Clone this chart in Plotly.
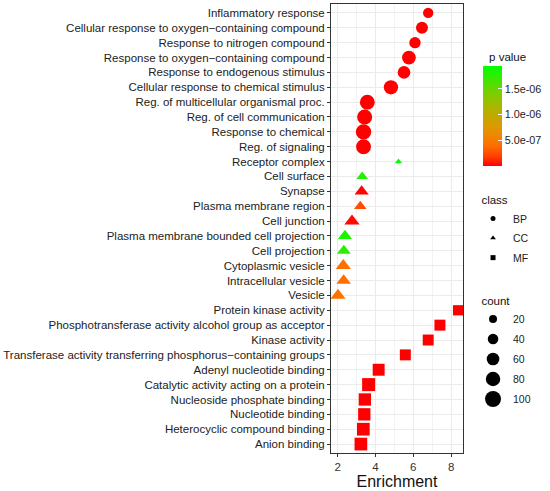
import plotly.graph_objects as go

# GO terms, top to bottom as in the figure
terms = [
    "Inflammatory response",
    "Cellular response to oxygen\u2212containing compound",
    "Response to nitrogen compound",
    "Response to oxygen\u2212containing compound",
    "Response to endogenous stimulus",
    "Cellular response to chemical stimulus",
    "Reg. of multicellular organismal proc.",
    "Reg. of cell communication",
    "Response to chemical",
    "Reg. of signaling",
    "Receptor complex",
    "Cell surface",
    "Synapse",
    "Plasma membrane region",
    "Cell junction",
    "Plasma membrane bounded cell projection",
    "Cell projection",
    "Cytoplasmic vesicle",
    "Intracellular vesicle",
    "Vesicle",
    "Protein kinase activity",
    "Phosphotransferase activity alcohol group as acceptor",
    "Kinase activity",
    "Transferase activity transferring phosphorus\u2212containing groups",
    "Adenyl nucleotide binding",
    "Catalytic activity acting on a protein",
    "Nucleoside phosphate binding",
    "Nucleotide binding",
    "Heterocyclic compound binding",
    "Anion binding",
]
term_class = ["BP"] * 10 + ["CC"] * 10 + ["MF"] * 10
enrichment = [6.79, 6.46, 6.09, 5.77, 5.51, 4.82, 3.57, 3.43, 3.37, 3.37,
              5.22, 3.30, 3.27, 3.20, 2.76, 2.39, 2.33, 2.30, 2.32, 2.02,
              8.37, 7.41, 6.79, 5.58, 4.17, 3.64, 3.44, 3.41, 3.36, 3.23]
count = [38, 53, 47, 72, 60, 78, 85, 88, 92, 86,
         6, 25, 40, 30, 47, 40, 38, 47, 43, 46,
         49, 57, 57, 57, 69, 83, 74, 74, 79, 79]
pvalue = [2.1e-12, 5.3e-12, 1.2e-11, 3.4e-12, 8.8e-12, 2.6e-11, 4.1e-10, 1.5e-10, 6.2e-11, 9.0e-11,
          1.95e-6, 1.82e-6, 1.1e-8, 2.5e-7, 3.0e-8, 1.85e-6, 1.78e-6, 4.2e-7, 4.1e-7, 4.4e-7,
          3.1e-11, 5.5e-11, 4.2e-11, 8.1e-11, 2.3e-10, 5.0e-10, 3.3e-10, 3.6e-10, 6.1e-10, 4.4e-10]

classes = ["BP", "CC", "MF"]
count_breaks = [20, 40, 60, 80, 100]
pval_ticks = [5.0e-7, 1.0e-6, 1.5e-6]
pval_ticktext = ["5.0e-07", "1.0e-06", "1.5e-06"]

symbols = {"BP": "circle", "CC": "triangle-up", "MF": "square"}
# make shapes look like the R ones at the same size
shape_factor = {"BP": 1.0, "CC": 1.166, "MF": 0.886}
font = "Liberation Sans"

# red -> green, picked by eye from the colour bar
colorscale = [
    [0.0, "#FF0000"], [0.1, "#FF4200"], [0.2, "#FF6C00"], [0.3, "#F28600"],
    [0.4, "#DA9A00"], [0.5, "#C2A800"], [0.6, "#A6B900"], [0.7, "#86C900"],
    [0.8, "#5CDB00"], [0.9, "#2EEE00"], [1.0, "#00FF00"],
]


def size_px(n):
    # area-ish size scale, 20 -> 8px, 100 -> 16px
    return (16 + 2.4 * n) ** 0.5


fig = go.Figure()

for cl in classes:
    idx = [i for i, c in enumerate(term_class) if c == cl]
    fig.add_trace(go.Scatter(
        x=[enrichment[i] for i in idx],
        y=[terms[i] for i in idx],
        mode="markers",
        marker=dict(symbol=symbols[cl],
                    size=[size_px(count[i]) * shape_factor[cl] for i in idx],
                    color=[pvalue[i] for i in idx],
                    coloraxis="coloraxis",
                    opacity=1,
                    line=dict(width=0)),
        showlegend=False,
        hoverinfo="skip",
    ))

# class legend
for cl in classes:
    fig.add_trace(go.Scatter(x=[None], y=[None], mode="markers", name=cl,
                             marker=dict(symbol=symbols[cl], size=5, color="black", opacity=1),
                             legend="legend2", legendgroup="c" + cl))
# count legend
for n in count_breaks:
    fig.add_trace(go.Scatter(x=[None], y=[None], mode="markers", name=str(n),
                             marker=dict(symbol="circle", size=size_px(n), color="black", opacity=1),
                             legend="legend3", legendgroup="n" + str(n)))

fig.update_layout(
    width=550, height=491,
    margin=dict(l=331, r=87, t=4, b=38),
    paper_bgcolor="white", plot_bgcolor="white",
    font=dict(family=font, color="#222222"),
    coloraxis=dict(
        colorscale=colorscale, cmin=min(pvalue), cmax=max(pvalue),
        colorbar=dict(
            title=dict(text="&nbsp;&nbsp;p value", side="top", font=dict(size=11.5, color="#111")),
            x=1.149, xanchor="left", xpad=0,
            y=0.9, yanchor="top", ypad=0,
            lenmode="pixels", len=117, thickness=19,
            outlinewidth=0,
            tickvals=pval_ticks, ticktext=pval_ticktext,
            ticks="inside", tickcolor="white", ticklen=4,
            tickfont=dict(size=10.8, color="#222"),
        ),
    ),
    legend2=dict(title=dict(text="&nbsp;&nbsp;class", font=dict(size=11.5, color="#111")),
                 x=1.076, xanchor="left", y=0.588, yanchor="top",
                 font=dict(size=10.5, color="#222"), bgcolor="rgba(0,0,0,0)",
                 tracegroupgap=0.6),
    legend3=dict(title=dict(text="&nbsp;&nbsp;count", font=dict(size=11.5, color="#111")),
                 x=1.076, xanchor="left", y=0.364, yanchor="top",
                 font=dict(size=10.5, color="#222"), bgcolor="rgba(0,0,0,0)",
                 itemsizing="trace", tracegroupgap=1.0),
)

fig.update_xaxes(
    range=[1.65, 8.63], tickvals=[2, 4, 6, 8],
    showgrid=True, gridcolor="#EBEBEB", gridwidth=1,
    minor=dict(tickvals=[3, 5, 7], showgrid=True, gridcolor="#F3F3F3", gridwidth=0.6),
    showline=True, mirror=True, linecolor="#333333", linewidth=1,
    ticks="outside", ticklen=3, tickcolor="#333333",
    tickfont=dict(size=11.5, color="#333"),
    title=dict(text="Enrichment", font=dict(size=16, color="#111"), standoff=2),
    zeroline=False,
)
fig.update_yaxes(
    categoryorder="array", categoryarray=terms,
    range=[len(terms) - 0.4, -0.6],
    showgrid=True, gridcolor="#EBEBEB", gridwidth=1,
    showline=True, mirror=True, linecolor="#333333", linewidth=1,
    ticks="outside", ticklen=3, tickcolor="#333333",
    tickfont=dict(size=11.5, color="#222"),
    automargin=False, zeroline=False,
)

# drop the default page margin so the figure sits at the window corner
fig.write_html("out.html", config={"displayModeBar": False},
               post_script="document.body.style.margin='0';")
